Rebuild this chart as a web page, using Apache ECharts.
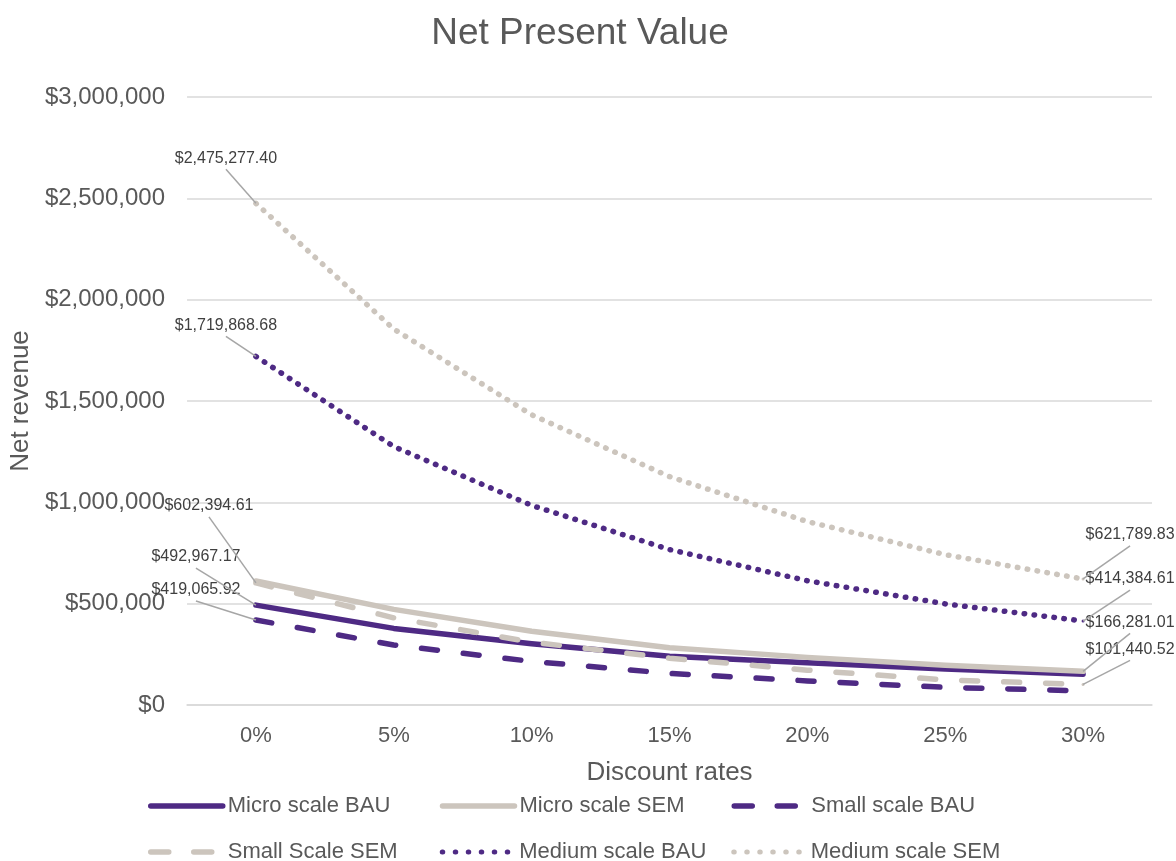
<!DOCTYPE html>
<html>
<head>
<meta charset="utf-8">
<title>Net Present Value</title>
<script src="https://cdn.jsdelivr.net/npm/echarts@6/dist/echarts.min.js"></script>
<style>
  html, body { margin: 0; padding: 0; background: #ffffff; }
  #chart { width: 1176px; height: 861px; }
</style>
</head>
<body>
<div id="chart"></div>
<script>
// Discount rates on the x axis
const discountRates = ['0%', '5%', '10%', '15%', '20%', '25%', '30%'];

// Net present value (USD) per scale and scenario
const microBAU  = [492967.17, 378000, 302000, 240000, 208000, 178000, 152000];
const microSEM  = [612000, 472000, 364000, 283000, 235000, 196000, 166281.01];
const smallBAU  = [419065.92, 296000, 215000, 156000, 119000, 87000, 70000];
const smallSEM  = [602394.61, 430000, 310000, 231000, 172000, 124000, 101440.52];
const mediumBAU = [1719868.68, 1275000, 985000, 767000, 613000, 499000, 414384.61];
const mediumSEM = [2475277.40, 1855000, 1432000, 1127000, 905000, 742000, 621789.83];

// Points that carry a value label: series name -> category indices
const labelledPoints = {
  'Micro scale BAU': [0],
  'Micro scale SEM': [6],
  'Small scale BAU': [0],
  'Small Scale SEM': [0, 6],
  'Medium scale BAU': [0, 6],
  'Medium scale SEM': [0, 6]
};

// Label offsets from their points (pixels)
const labelOffsets = {
  'Micro scale BAU':  { 0: [-60, -48] },
  'Micro scale SEM':  { 6: [47, -49] },
  'Small scale BAU':  { 0: [-60, -30] },
  'Small Scale SEM':  { 0: [-47, -77], 6: [47, -35] },
  'Medium scale BAU': { 0: [-30, -31], 6: [47, -42] },
  'Medium scale SEM': { 0: [-30, -45], 6: [47, -44] }
};

const PURPLE = '#4e2a84';
const GREY = '#ccc5bd';
const TEXT = '#595959';
const FONT = '"Liberation Sans", Arial, sans-serif';
const DASH = [16, 26];
const DOT = [0.5, 9.5];

function money(v, decimals) {
  return '$' + Number(v).toLocaleString('en-US', {
    minimumFractionDigits: decimals, maximumFractionDigits: decimals
  });
}

function makeSeries(name, values, color, lineType) {
  const marks = labelledPoints[name] || [];
  return {
    name: name,
    type: 'line',
    symbol: 'none',
    silent: true,
    color: color,
    lineStyle: { color: color, width: 5.5, type: lineType, cap: 'round', join: 'round' },
    label: { show: false },
    labelLine: { show: false },
    labelLayout: function (p) {
      const o = (labelOffsets[name] || {})[p.dataIndex];
      return o ? { dx: o[0], dy: o[1] } : {};
    },
    emphasis: { disabled: true },
    data: values.map(function (v, i) {
      if (marks.indexOf(i) < 0) return v;
      return {
        value: v,
        symbol: 'circle',
        symbolSize: 3,
        itemStyle: { color: color },
        label: {
          show: true,
          position: 'inside',
          align: 'center',
          verticalAlign: 'middle',
          fontFamily: FONT,
          fontSize: 16,
          color: '#404040',
          formatter: function (p) { return money(p.value, 2); }
        }
      };
    })
  };
}

const seriesList = [
  makeSeries('Micro scale BAU', microBAU, PURPLE, 'solid'),
  makeSeries('Micro scale SEM', microSEM, GREY, 'solid'),
  makeSeries('Small scale BAU', smallBAU, PURPLE, DASH),
  makeSeries('Small Scale SEM', smallSEM, GREY, DASH),
  makeSeries('Medium scale BAU', mediumBAU, PURPLE, DOT),
  makeSeries('Medium scale SEM', mediumSEM, GREY, DOT)
];

const chart = echarts.init(document.getElementById('chart'), null, { renderer: 'canvas' });

chart.setOption({
  animation: false,
  backgroundColor: '#ffffff',
  textStyle: { fontFamily: FONT },
  title: {
    text: 'Net Present Value',
    left: 575,
    textAlign: 'center',
    top: 10,
    textStyle: { fontFamily: FONT, fontSize: 37, fontWeight: 'normal', color: TEXT }
  },
  grid: { left: 187, right: 24, top: 97, bottom: 156, containLabel: false },
  xAxis: {
    type: 'category',
    data: discountRates,
    boundaryGap: true,
    name: 'Discount rates',
    nameLocation: 'middle',
    nameGap: 55,
    nameTextStyle: { fontFamily: FONT, fontSize: 26, color: TEXT },
    axisLine: { show: true, lineStyle: { color: '#d9d9d9', width: 1.5 } },
    axisTick: { show: false },
    axisLabel: { fontFamily: FONT, fontSize: 22, color: TEXT, margin: 20 }
  },
  yAxis: {
    type: 'value',
    min: 0,
    max: 3000000,
    interval: 500000,
    name: 'Net revenue',
    nameLocation: 'middle',
    nameGap: 150,
    nameTextStyle: { fontFamily: FONT, fontSize: 26, color: TEXT },
    axisLine: { show: false },
    axisTick: { show: false },
    splitLine: { lineStyle: { color: '#d9d9d9', width: 1.5 } },
    axisLabel: {
      fontFamily: FONT, fontSize: 24, color: TEXT, margin: 22,
      formatter: function (v) { return money(v, 0); }
    }
  },
  legend: {
    left: 143,
    top: 784,
    width: 880,
    itemWidth: 72,
    itemHeight: 14,
    itemGap: 12,
    selectedMode: false,
    itemStyle: { opacity: 0 },
    lineStyle: { width: 5.5 },
    textStyle: { fontFamily: FONT, fontSize: 22, color: TEXT, width: 200, lineHeight: 34 },
    data: [
      { name: 'Micro scale BAU' },
      { name: 'Micro scale SEM' },
      { name: 'Small scale BAU', lineStyle: { type: [18, 25], width: 5.5 } },
      { name: 'Small Scale SEM', lineStyle: { type: [18, 25], width: 5.5 } },
      { name: 'Medium scale BAU', lineStyle: { type: [0.5, 12.5], width: 5 } },
      { name: 'Medium scale SEM', lineStyle: { type: [0.5, 12.5], width: 5 } }
    ]
  },
  series: seriesList
});

// Leader lines from each value label down to its point
const leaders = [];
seriesList.forEach(function (s, si) {
  const offs = labelOffsets[s.name] || {};
  Object.keys(offs).forEach(function (k) {
    const i = Number(k);
    const raw = s.data[i];
    const v = typeof raw === 'object' ? raw.value : raw;
    const p = chart.convertToPixel({ seriesIndex: si }, [i, v]);
    const o = offs[k];
    leaders.push({
      type: 'line',
      silent: true,
      z: 5,
      shape: { x1: p[0] + o[0], y1: p[1] + o[1] + 11, x2: p[0], y2: p[1] },
      style: { stroke: '#a6a6a6', lineWidth: 1.5 }
    });
  });
});
chart.setOption({ graphic: leaders });
</script>
</body>
</html>
